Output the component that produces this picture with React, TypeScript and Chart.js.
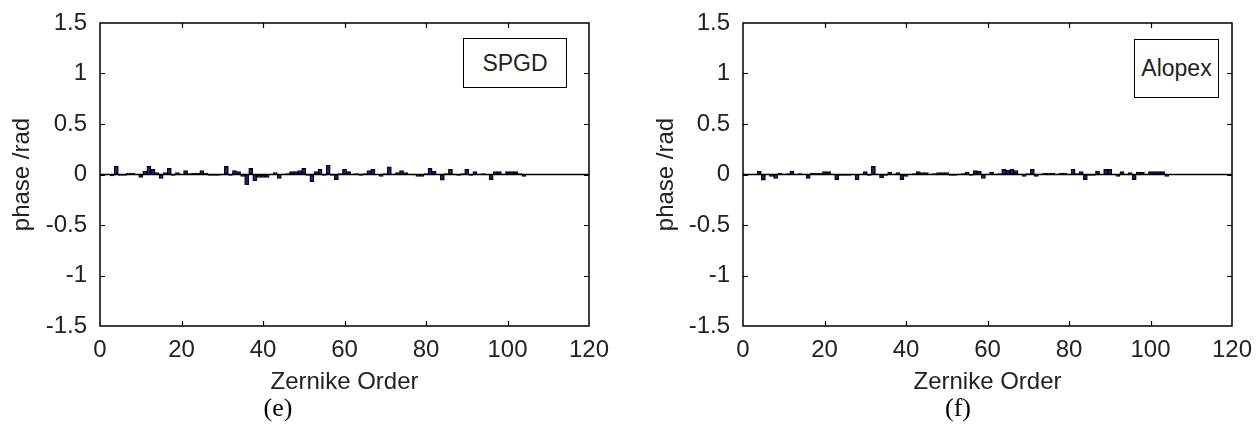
import React, { useEffect, useRef } from 'react';
import { Chart, registerables } from 'chart.js';

Chart.register(...registerables);

// Zernike orders 3..104
const FIRST_ORDER = 3;
const spgdPhase = [
  -0.015, 0.08, -0.01, -0.01, 0.015, 0.015, 0.005, -0.03, 0.035, 0.08,
  0.05, 0.02, -0.04, 0.02, 0.06, -0.01, 0.02, 0.005, 0.04, 0.01,
  0.015, 0.015, 0.04, 0.015, -0.01, -0.01, -0.01, 0.005, 0.08, -0.01,
  0.04, 0.03, -0.02, -0.1, 0.06, -0.06, -0.03, -0.03, -0.03, 0.005,
  0.02, -0.04, 0.005, 0.01, 0.03, 0.03, 0.04, 0.06, -0.01, -0.07,
  0.03, 0.05, -0.01, 0.09, -0.01, -0.05, 0.01, 0.05, 0.03, 0.005,
  0.01, -0.01, 0.01, 0.04, 0.05, -0.005, -0.02, 0.01, 0.075, 0.005,
  0.02, 0.04, 0.02, 0.005, -0.005, -0.02, -0.02, 0.01, 0.06, 0.035,
  0.005, -0.055, 0.01, 0.05, 0.005, -0.01, 0.01, 0.05, -0.01, 0.03,
  0.005, 0.01, -0.005, -0.05, 0.03, 0.03, 0.005, 0.03, 0.03, 0.03,
  0.01, -0.02,
];
const alopexPhase = [
  0.005, 0.035, -0.055, 0.005, -0.02, -0.04, 0.015, 0.005, 0.01, 0.035,
  0.005, 0.01, 0.005, -0.04, 0.015, 0.015, 0.015, 0.03, 0.03, 0.005,
  -0.05, -0.01, -0.01, -0.01, -0.005, -0.05, 0.005, 0.03, -0.01, 0.08,
  0.005, -0.035, -0.01, 0.025, 0.005, 0.02, -0.05, -0.02, 0.005, 0.01,
  0.03, 0.02, 0.02, 0.005, 0.01, 0.02, 0.02, 0.02, -0.01, -0.01,
  0.005, 0.01, 0.025, -0.01, 0.04, 0.035, -0.04, 0.005, 0.025, 0.005,
  0.01, 0.05, 0.045, 0.05, 0.04, 0.005, -0.02, 0.01, 0.05, -0.02,
  0.005, 0.015, 0.015, 0.015, 0.005, 0.015, 0.015, 0.005, 0.05, 0.01,
  0.03, -0.05, -0.01, -0.01, 0.035, 0.005, 0.05, 0.05, 0.005, -0.02,
  0.03, 0.005, 0.02, -0.05, 0.025, 0.025, 0.005, 0.03, 0.03, 0.03,
  0.03, -0.02,
];
const xTickValues = [0, 20, 40, 60, 80, 100, 120];
const yTickValues = [-1.5, -1, -0.5, 0, 0.5, 1, 1.5];
const baselineX = [0, 120];

const SANS = "'Liberation Sans', Arial, sans-serif";
const SERIF = "'Liberation Serif', 'Times New Roman', serif";
const TEXT = '#222';

const boxPlugin = {
  id: 'boxTicks',
  afterDatasetsDraw(chart: any) {
    const { ctx, chartArea: a, scales } = chart;
    const x = scales.x;
    const y = scales.y;
    ctx.save();
    ctx.strokeStyle = '#000';
    ctx.lineWidth = 1.5;
    ctx.strokeRect(a.left, a.top, a.right - a.left, a.bottom - a.top);
    ctx.lineWidth = 1.2;
    const L = 5;
    ctx.beginPath();
    x.ticks.forEach((t: any) => {
      if (t.value <= x.min || t.value >= x.max) return;
      const px = Math.round(x.getPixelForValue(t.value)) + 0.5;
      ctx.moveTo(px, a.bottom);
      ctx.lineTo(px, a.bottom - L);
      ctx.moveTo(px, a.top);
      ctx.lineTo(px, a.top + L);
    });
    y.ticks.forEach((t: any) => {
      if (t.value <= y.min || t.value >= y.max) return;
      const py = Math.round(y.getPixelForValue(t.value)) + 0.5;
      ctx.moveTo(a.left, py);
      ctx.lineTo(a.left + L, py);
      ctx.moveTo(a.right, py);
      ctx.lineTo(a.right - L, py);
    });
    ctx.stroke();
    ctx.restore();
  },
};

type PanelProps = {
  left: number;
  width: number;
  plotLeft: number;
  plotRight: number;
  yTitlePad: number;
  values: number[];
  legend: string;
  legendBox: { left: number; top: number; width: number; height: number };
  caption: string;
  captionX: number;
};

function Panel(p: PanelProps) {
  const ref = useRef<HTMLCanvasElement | null>(null);
  useEffect(() => {
    if (!ref.current) return;
    const bars = p.values.map((v, i) => ({ x: FIRST_ORDER + i, y: v }));
    const chart = new Chart(ref.current, {
      type: 'bar',
      data: {
        datasets: [
          {
            type: 'line',
            data: baselineX.map((x) => ({ x, y: 0 })),
            borderColor: '#000',
            borderWidth: 1.5,
            pointRadius: 0,
            order: 0,
          } as any,
          {
            type: 'bar',
            data: bars,
            backgroundColor: '#1f1f8a',
            borderColor: '#000',
            borderWidth: 1.2,
            borderSkipped: false,
            barPercentage: 1,
            categoryPercentage: 1,
            order: 1,
          } as any,
        ],
      },
      options: {
        responsive: false,
        animation: false,
        devicePixelRatio: 1,
        layout: { padding: { top: 23, right: p.width - p.plotRight, left: 0, bottom: 0 } },
        plugins: { legend: { display: false }, tooltip: { enabled: false } },
        scales: {
          x: {
            type: 'linear',
            min: 0,
            max: 120,
            offset: false,
            afterBuildTicks: (s: any) => {
              s.ticks = xTickValues.map((v) => ({ value: v }));
            },
            afterFit: (s: any) => {
              s.height = 102;
            },
            grid: { display: false },
            border: { display: false },
            ticks: {
              font: { family: SANS, size: 24 },
              color: TEXT,
              padding: 2,
              maxRotation: 0,
              autoSkip: false,
              callback: (v: any) => String(v),
            },
            title: {
              display: true,
              text: 'Zernike Order',
              font: { family: SANS, size: 24 },
              color: TEXT,
              padding: { top: 0, bottom: 31 },
            },
          },
          y: {
            type: 'linear',
            min: -1.5,
            max: 1.5,
            afterBuildTicks: (s: any) => {
              s.ticks = yTickValues.map((v) => ({ value: v }));
            },
            afterFit: (s: any) => {
              s.width = p.plotLeft;
            },
            grid: { display: false },
            border: { display: false },
            ticks: {
              font: { family: SANS, size: 24 },
              color: TEXT,
              padding: 5,
              autoSkip: false,
              callback: (v: any) => String(v),
            },
            title: {
              display: true,
              text: 'phase /rad',
              font: { family: SANS, size: 24 },
              color: TEXT,
              padding: { top: p.yTitlePad, bottom: 0 },
            },
          },
        },
      } as any,
      plugins: [boxPlugin],
    });
    return () => chart.destroy();
  }, []);

  return (
    <div style={{ position: 'absolute', left: p.left, top: 0, width: p.width, height: 428 }}>
      <canvas ref={ref} width={p.width} height={428} style={{ width: p.width, height: 428, display: 'block' }} />
      <div
        style={{
          position: 'absolute',
          left: p.legendBox.left - p.left,
          top: p.legendBox.top,
          width: p.legendBox.width,
          height: p.legendBox.height,
          border: '1.5px solid #000',
          boxSizing: 'border-box',
          background: '#fff',
          display: 'flex',
          alignItems: 'center',
          justifyContent: 'center',
          fontFamily: SANS,
          fontSize: 23,
          color: TEXT,
        }}
      >
        {p.legend}
      </div>
      <div
        style={{
          position: 'absolute',
          left: p.captionX - p.left - 40,
          width: 80,
          top: 395,
          textAlign: 'center',
          fontFamily: SERIF,
          fontSize: 26,
          lineHeight: '26px',
          color: '#000',
        }}
      >
        {p.caption}
      </div>
    </div>
  );
}

export default function App() {
  return (
    <div style={{ position: 'absolute', left: 0, top: 0, width: 1260, height: 428, background: '#fff', overflow: 'hidden' }}>
      <Panel
        left={0}
        width={640}
        plotLeft={100}
        plotRight={589}
        yTitlePad={8}
        values={spgdPhase}
        legend="SPGD"
        legendBox={{ left: 463, top: 38, width: 104, height: 50 }}
        caption="(e)"
        captionX={278}
      />
      <Panel
        left={640}
        width={620}
        plotLeft={103}
        plotRight={592}
        yTitlePad={12}
        values={alopexPhase}
        legend="Alopex"
        legendBox={{ left: 1134, top: 39, width: 85, height: 59 }}
        caption="(f)"
        captionX={958}
      />
    </div>
  );
}
